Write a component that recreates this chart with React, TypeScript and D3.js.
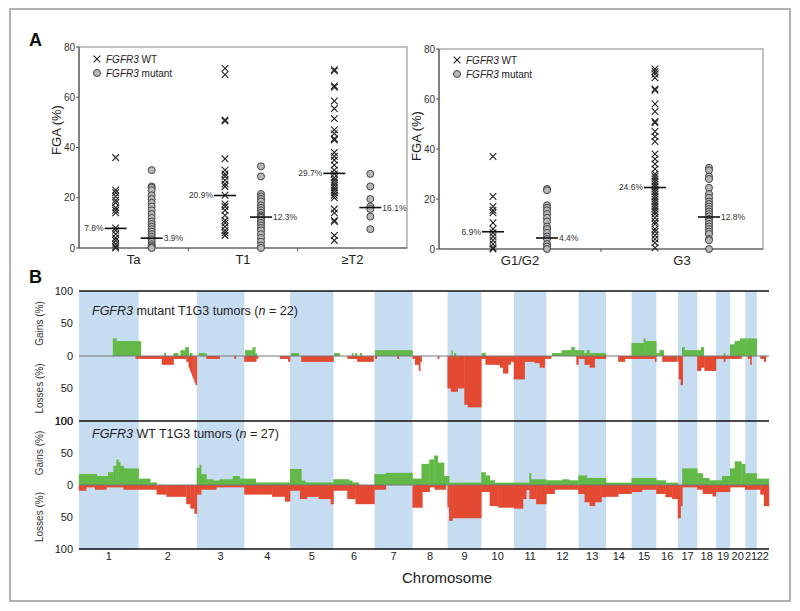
import React from 'react';
import * as d3 from 'd3';

const FONT = "'Liberation Sans', Arial, Helvetica, sans-serif";

// ---------- Panel A data ----------
const stageCats = ['Ta', 'T1', '≥T2'];
const gradeCats = ['G1/G2', 'G3'];

const taWT = [36, 23, 22, 20.5, 19, 18, 16, 15, 14, 8, 7, 5.5, 4, 3, 1.5, 0.5, 0];
const taMut = [31, 24.5, 24, 23, 21, 19.5, 18, 16.5, 15, 13.5, 12, 10.5, 9.5, 8.5, 7.5, 6.5, 5.5, 4.5, 3.5, 2.5, 1.5, 0.8, 0.3, 0];
const t1WT = [71.5, 69, 50.5, 51, 35.5, 31, 29.5, 28.5, 27, 25.5, 24.5, 21, 17.5, 16.5, 15, 13, 11, 10, 8.5, 7, 6, 5];
const t1Mut = [32.5, 28.5, 21.5, 20.5, 19.5, 18.5, 17, 16, 15, 14, 13, 12.5, 12, 11, 10, 9, 8, 7, 5.5, 4, 2.5, 1, 0];
const t2WT = [71, 70.5, 64.5, 64, 58.5, 55.5, 51.5, 47, 45.5, 43.5, 43, 38, 36.5, 35, 33, 31, 29.5, 28, 27, 26, 25, 24, 23, 22, 21, 20, 15.5, 14, 11, 10.5, 5, 3];
const t2Mut = [29.5, 24.5, 19.5, 16.5, 15.5, 12.5, 7.5];
const g12WT = [37, 21, 17, 15.5, 14.5, 10.5, 8, 6.5, 5, 3.5, 2, 0.5, 0];
const g12Mut = [24, 23.5, 17.5, 16.5, 15.5, 14, 12.5, 11, 9, 8, 6.5, 5, 4, 2, 1, 0];
const g3WT = [72, 71, 70, 68.5, 64, 63.5, 58, 55, 51, 50.5, 47, 45, 43, 38, 36, 34, 32, 30, 29, 28, 27, 26, 25, 24, 23, 22, 21, 20, 19, 18, 17, 16, 15, 14, 12.5, 11, 10, 8, 7, 5.5, 4, 2.5, 0.5];
const g3Mut = [32.5, 31.5, 29, 28, 24.5, 22, 20.5, 19, 18, 17, 16, 15, 14, 13, 12, 11, 10, 9, 8, 7, 6, 4, 3.5, 0];

const stageWTMed = [7.8, 20.9, 29.7];
const stageMutMed = [3.9, 12.3, 16.1];
const gradeWTMed = [6.9, 24.6];
const gradeMutMed = [4.4, 12.8];
const fgaTicks = [0, 20, 40, 60, 80];

// ---------- Panel B data ----------
const chromLengths = [249, 243, 198, 191, 181, 171, 159, 146, 141, 136, 135, 134, 115, 107, 103, 90, 81, 78, 59, 63, 48, 51];
const pctTicks = [100, 50, 0, 50, 100];

// [chromosome, fromFraction, toFraction, percent]
const mutGains = [
  [1, 0.57, 0.63, 27], [1, 0.63, 1, 23], [2, 0, 0.04, 23],
  [2, 0.44, 0.47, 4.5], [2, 0.6, 0.68, 4.5], [2, 0.72, 0.8, 9], [2, 0.8, 0.86, 13.6], [2, 0.88, 0.92, 4.5],
  [3, 0.04, 0.2, 4.5],
  [4, 0.02, 0.18, 9], [4, 0.18, 0.24, 13.6], [4, 0.24, 0.27, 4.5],
  [5, 0.02, 0.2, 4.5],
  [6, 0.02, 0.15, 4.5], [6, 0.45, 0.48, 4.5], [6, 0.53, 0.57, 4.5], [6, 0.65, 0.69, 4.5],
  [7, 0.02, 1, 9],
  [9, 0.12, 0.15, 9], [9, 0.2, 0.25, 4.5],
  [10, 0.01, 0.13, 4.5],
  [12, 0.18, 0.48, 4.5], [12, 0.48, 0.78, 9], [12, 0.78, 0.88, 13.6], [12, 0.88, 1, 9],
  [13, 0, 0.2, 9], [13, 0.2, 0.3, 4.5], [13, 0.3, 0.4, 9], [13, 0.4, 1, 4.5],
  [15, 0, 0.49, 20], [15, 0.49, 0.56, 27], [15, 0.56, 1, 23],
  [16, 0, 0.15, 4.5], [16, 0.15, 0.35, 9],
  [17, 0.22, 0.35, 13.6], [17, 0.35, 1, 9],
  [18, 0, 0.2, 9], [18, 0.2, 0.35, 13.6],
  [19, 0.55, 0.65, 4.5],
  [20, 0, 0.3, 18], [20, 0.3, 0.65, 23], [20, 0.65, 1, 27],
  [21, 0, 1, 27],
];
const mutLosses = [
  [1, 0.95, 1, 4.5],
  [2, 0, 0.4, 4.5], [2, 0.4, 0.6, 13.6], [2, 0.6, 0.82, 4.5], [2, 0.82, 0.86, 9], [2, 0.86, 0.88, 18],
  [2, 0.88, 0.9, 23], [2, 0.9, 0.92, 27], [2, 0.92, 0.94, 32], [2, 0.94, 0.96, 36], [2, 0.96, 0.98, 41], [2, 0.98, 1, 45],
  [3, 0.2, 0.48, 4.5], [3, 0.79, 0.82, 4.5],
  [4, 0, 0.26, 9], [4, 0.26, 0.3, 4.5], [4, 0.78, 0.96, 4.5], [4, 0.96, 1, 9],
  [5, 0.26, 1, 9],
  [6, 0.34, 0.58, 4.5], [6, 0.58, 0.98, 9],
  [7, 0.02, 0.06, 4.5], [7, 0.6, 0.64, 4.5],
  [8, 0, 0.07, 4.5], [8, 0.07, 0.18, 13.6], [8, 0.18, 0.22, 23], [8, 0.22, 0.26, 9], [8, 0.72, 0.76, 4.5],
  [9, 0, 0.1, 50], [9, 0.1, 0.3, 55], [9, 0.3, 0.5, 50], [9, 0.5, 0.6, 75], [9, 0.6, 1, 79],
  [10, 0, 0.13, 4.5], [10, 0.13, 0.57, 13.6], [10, 0.57, 0.67, 18], [10, 0.67, 0.82, 27], [10, 0.82, 0.9, 13.6], [10, 0.9, 1, 9],
  [11, 0, 0.33, 36], [11, 0.33, 0.64, 9], [11, 0.64, 0.8, 11], [11, 0.8, 0.95, 18], [11, 0.95, 1, 4.5],
  [12, 0, 0.15, 4.5], [12, 0.94, 1, 13.6],
  [13, 0, 0.23, 4.5], [13, 0.23, 0.41, 13.6], [13, 0.41, 0.59, 18], [13, 0.59, 1, 4.5],
  [14, 0.48, 0.74, 9], [14, 0.74, 1, 4.5],
  [15, 0, 0.95, 4.5], [15, 0.95, 1, 9],
  [16, 0.28, 0.97, 9],
  [17, 0, 0.05, 9], [17, 0.05, 0.15, 36], [17, 0.15, 0.25, 45],
  [18, 0, 0.2, 23], [18, 0.2, 0.39, 18], [18, 0.39, 1, 23],
  [19, 0, 1, 4.5], [19, 0.55, 0.65, 9],
  [20, 0, 0.75, 4.5],
  [21, 0.25, 0.5, 4.5], [21, 0.45, 0.55, 13.6],
  [22, 0.3, 0.75, 4.5], [22, 0.6, 0.75, 9],
];
const wtGains = [
  [1, 0, 0.3, 17], [1, 0.3, 0.49, 14], [1, 0.49, 0.58, 20], [1, 0.58, 0.63, 30], [1, 0.63, 0.66, 40],
  [1, 0.66, 0.69, 36], [1, 0.69, 0.75, 30], [1, 0.75, 1, 26],
  [2, 0, 0.2, 10], [2, 0.2, 0.31, 4],
  [3, 0, 0.06, 27], [3, 0.06, 0.09, 32], [3, 0.09, 0.2, 17], [3, 0.2, 0.34, 9], [3, 0.34, 0.48, 7],
  [3, 0.48, 0.76, 9], [3, 0.76, 0.9, 14], [3, 0.9, 1, 10],
  [4, 0, 0.25, 10], [4, 0.25, 1, 4],
  [5, 0, 0.26, 25], [5, 0.26, 0.35, 7], [5, 0.35, 1, 4],
  [6, 0, 0.38, 9], [6, 0.38, 0.46, 7], [6, 0.46, 0.62, 4],
  [7, 0, 0.3, 17], [7, 0.3, 1, 19],
  [8, 0, 0.26, 10], [8, 0.26, 0.48, 33], [8, 0.48, 0.62, 40], [8, 0.62, 0.72, 46], [8, 0.72, 0.9, 35], [8, 0.9, 1, 14],
  [9, 0, 0.05, 14], [9, 0.05, 1, 3.7],
  [10, 0, 0.13, 20], [10, 0.13, 0.26, 15], [10, 0.26, 0.41, 7.4], [10, 0.41, 1, 3.7],
  [11, 0, 0.48, 3.7], [11, 0.48, 0.53, 18.5], [11, 0.53, 1, 9],
  [12, 0, 1, 7.4], [12, 0.5, 0.7, 9],
  [13, 0, 0.3, 15], [13, 0.3, 1, 11],
  [14, 0, 1, 3.7],
  [15, 0, 1, 11],
  [16, 0, 0.43, 7.4], [16, 0.43, 1, 3.7],
  [17, 0.23, 1, 26],
  [18, 0, 0.3, 18.5], [18, 0.3, 0.65, 11], [18, 0.65, 1, 7.4],
  [19, 0, 0.43, 7.4], [19, 0.43, 1, 14],
  [20, 0, 0.31, 26], [20, 0.31, 0.75, 37], [20, 0.75, 1, 33],
  [21, 0, 1, 18.5],
  [22, 0, 1, 10],
];
const wtLosses = [
  [1, 0, 0.12, 9], [1, 0.12, 0.27, 3.7], [1, 0.27, 0.46, 7.4], [1, 0.46, 0.75, 3.7], [1, 0.75, 1, 7.4],
  [2, 0, 0.31, 7.4], [2, 0.31, 0.48, 15], [2, 0.48, 0.82, 18.5], [2, 0.82, 0.89, 30], [2, 0.89, 0.96, 37], [2, 0.96, 1, 45],
  [3, 0, 0.09, 15], [3, 0.09, 0.41, 7.4], [3, 0.41, 1, 3.7],
  [4, 0, 0.61, 15], [4, 0.61, 0.89, 18.5], [4, 0.89, 1, 26],
  [5, 0, 0.23, 9], [5, 0.23, 0.39, 22], [5, 0.39, 0.66, 18.5], [5, 0.66, 0.94, 22], [5, 0.94, 1, 30],
  [6, 0, 0.34, 9], [6, 0.34, 0.54, 22], [6, 0.54, 1, 30],
  [7, 0, 0.3, 7.4],
  [8, 0, 0.28, 35.5], [8, 0.28, 0.49, 11], [8, 0.49, 0.63, 3.7], [8, 0.63, 0.95, 7.4],
  [9, 0, 0.05, 35], [9, 0.05, 0.15, 56], [9, 0.15, 1, 52],
  [10, 0, 0.26, 11], [10, 0.26, 0.52, 33], [10, 0.52, 1, 35.5],
  [11, 0, 0.28, 37], [11, 0.28, 0.38, 22], [11, 0.38, 0.48, 8], [11, 0.48, 0.69, 22], [11, 0.69, 1, 30],
  [12, 0, 0.26, 14], [12, 0.26, 1, 7.4],
  [13, 0, 0.23, 14], [13, 0.23, 0.41, 27], [13, 0.41, 0.6, 33], [13, 0.6, 0.84, 27], [13, 0.84, 1, 19],
  [14, 0, 0.48, 18.5], [14, 0.48, 1, 14],
  [15, 0, 0.42, 11], [15, 0.42, 1, 7.4],
  [16, 0, 0.43, 14], [16, 0.43, 0.74, 19], [16, 0.74, 1, 22],
  [17, 0, 0.14, 52], [17, 0.14, 0.23, 33], [17, 0.23, 1, 3.7],
  [18, 0, 0.3, 7.4], [18, 0.3, 0.82, 14], [18, 0.82, 1, 18],
  [19, 0, 1, 11],
  [20, 0, 1, 3.7],
  [21, 0, 1, 7.4],
  [22, 0, 0.3, 7.4], [22, 0.3, 0.6, 15], [22, 0.6, 1, 33],
];

const GREEN = '#63b948';
const RED = '#e34a31';
const BLUE = '#c6dcf1';

function XMark({ x, y }: { x: number; y: number }) {
  const s = 3.3;
  return (
    <path d={`M${x - s},${y - s}L${x + s},${y + s}M${x - s},${y + s}L${x + s},${y - s}`} stroke="#222" strokeWidth={1.1} fill="none" />
  );
}
function Dot({ x, y }: { x: number; y: number }) {
  return <circle cx={x} cy={y} r={3.5} fill="#b8b8b8" stroke="#444" strokeWidth={1} />;
}

function FgaPanel(props: {
  x0: number; x1: number; yTop: number; yBot: number; cats: string[];
  wt: number[][]; mut: number[][]; wtMed: number[]; mutMed: number[]; off: number;
  titleX: number; titleY: number; legX: number; legY: number;
}) {
  const { x0, x1, yTop, yBot, cats, wt, mut, wtMed, mutMed, off } = props;
  const xb = d3.scaleBand().domain(cats).range([x0, x1]);
  const y = d3.scaleLinear().domain([0, 80]).range([yBot, yTop]);
  const hw = 11;
  return (
    <g fontFamily={FONT}>
      <rect x={x0} y={yTop} width={x1 - x0} height={yBot - yTop} fill="none" stroke="#999" strokeWidth={1.2} />
      <line x1={x0} x2={x0} y1={yTop} y2={yBot} stroke="#555" strokeWidth={1.2} />
      <line x1={x0} x2={x1} y1={yBot} y2={yBot} stroke="#555" strokeWidth={1.2} />
      {fgaTicks.map((t) => (
        <g key={t}>
          <line x1={x0 - 3} x2={x0} y1={y(t)} y2={y(t)} stroke="#555" />
          <text x={x0 - 4} y={y(t)} dy="0.35em" textAnchor="end" fontSize={10} fill="#333">{t}</text>
        </g>
      ))}
      {cats.slice(0, -1).map((c) => (
        <line key={c} x1={xb(c)! + xb.bandwidth()} x2={xb(c)! + xb.bandwidth()} y1={yBot} y2={yBot + 3} stroke="#555" />
      ))}
      {cats.map((c) => (
        <text key={c} x={xb(c)! + xb.bandwidth() / 2} y={yBot + 16} textAnchor="middle" fontSize={13} fill="#222">{c}</text>
      ))}
      <text transform={`translate(${props.titleX},${props.titleY}) rotate(-90)`} textAnchor="middle" dy="0.35em" fontSize={13} fill="#222">FGA (%)</text>
      {cats.map((c, i) => {
        const cx = xb(c)! + xb.bandwidth() / 2;
        const xw = cx - off;
        const xm = cx + off;
        return (
          <g key={c}>
            {wt[i].map((v, j) => <XMark key={j} x={xw} y={y(v)} />)}
            {mut[i].map((v, j) => <Dot key={j} x={xm} y={y(v)} />)}
            <line x1={xw - hw} x2={xw + hw} y1={y(wtMed[i])} y2={y(wtMed[i])} stroke="#111" strokeWidth={1.6} />
            <line x1={xm - hw} x2={xm + hw} y1={y(mutMed[i])} y2={y(mutMed[i])} stroke="#111" strokeWidth={1.6} />
            <text x={xw - hw - 1} y={y(wtMed[i])} dy="0.35em" textAnchor="end" fontSize={8.5} fill="#333">{wtMed[i].toFixed(1)}%</text>
            <text x={xm + hw + 1} y={y(mutMed[i])} dy="0.35em" textAnchor="start" fontSize={8.5} fill="#333">{mutMed[i].toFixed(1)}%</text>
          </g>
        );
      })}
      <XMark x={props.legX} y={props.legY} />
      <text x={props.legX + 9} y={props.legY} dy="0.35em" fontSize={10} fill="#222"><tspan fontStyle="italic">FGFR3</tspan> WT</text>
      <Dot x={props.legX} y={props.legY + 14} />
      <text x={props.legX + 9} y={props.legY + 14} dy="0.35em" fontSize={10} fill="#222"><tspan fontStyle="italic">FGFR3</tspan> mutant</text>
    </g>
  );
}

const chromStarts = [0, ...Array.from(d3.cumsum(chromLengths))];
const genomeLen = d3.sum(chromLengths);
const BX0 = 79;
const BX1 = 769;
const xG = d3.scaleLinear().domain([0, genomeLen]).range([BX0, BX1]);

function Profile(props: { yTop: number; yZero: number; yBot: number; gains: number[][]; losses: number[][]; label: string; labelY: number }) {
  const { yTop, yZero, yBot, gains, losses } = props;
  const yg = d3.scaleLinear().domain([0, 100]).range([yZero, yTop]);
  const yl = d3.scaleLinear().domain([0, 100]).range([yZero, yBot]);
  const segX = (s: number[]) => {
    const c = s[0] - 1;
    const a = xG(chromStarts[c] + s[1] * chromLengths[c]);
    const b = xG(chromStarts[c] + s[2] * chromLengths[c]);
    return [a, b];
  };
  const tickY = [yg(100), yg(50), yZero, yl(50), yl(100)];
  return (
    <g fontFamily={FONT}>
      {gains.map((s, i) => {
        const [a, b] = segX(s);
        return <rect key={'g' + i} x={a - 0.2} width={b - a + 0.4} y={yg(s[3])} height={yZero - yg(s[3])} fill={GREEN} />;
      })}
      {losses.map((s, i) => {
        const [a, b] = segX(s);
        return <rect key={'l' + i} x={a - 0.2} width={b - a + 0.4} y={yZero} height={yl(s[3]) - yZero} fill={RED} />;
      })}
      <line x1={BX0} x2={BX1} y1={yZero} y2={yZero} stroke="#777" strokeWidth={1} />
      {pctTicks.map((t, i) => (
        <text key={i} x={73} y={tickY[i]} dy="0.35em" textAnchor="end" fontSize={11} fill="#222">{t}</text>
      ))}
      <text transform={`translate(39,${(yTop + yZero) / 2}) rotate(-90)`} textAnchor="middle" dy="0.35em" fontSize={10} fill="#333">Gains (%)</text>
      <text transform={`translate(39,${(yZero + yBot) / 2}) rotate(-90)`} textAnchor="middle" dy="0.35em" fontSize={10} fill="#333">Losses (%)</text>
      <text x={92} y={props.labelY} fontSize={12.5} fill="#222">
        <tspan fontStyle="italic">FGFR3</tspan> {props.label} (<tspan fontStyle="italic">n</tspan> = {props.label.includes('mutant') ? '22' : '27'})
      </text>
    </g>
  );
}

export default function App() {
  const bTop = 291, bMid = 421, bBot = 549;
  return (
    <svg width={800} height={611} style={{ position: 'absolute', left: 0, top: 0, background: '#fff' }} fontFamily={FONT}>
      <rect x={0} y={0} width={800} height={611} fill="#fff" />
      <rect x={10} y={9} width={780} height={592} fill="none" stroke="#999" strokeWidth={1.5} />
      <text x={29} y={46} fontSize={18} fontWeight="bold" fill="#111">A</text>
      <text x={29} y={283} fontSize={18} fontWeight="bold" fill="#111">B</text>

      <FgaPanel x0={79} x1={407} yTop={47} yBot={248} cats={stageCats}
        wt={[taWT, t1WT, t2WT]} mut={[taMut, t1Mut, t2Mut]} wtMed={stageWTMed} mutMed={stageMutMed} off={18}
        titleX={56} titleY={130} legX={97} legY={59} />
      <FgaPanel x0={439} x1={763} yTop={49} yBot={249} cats={gradeCats}
        wt={[g12WT, g3WT]} mut={[g12Mut, g3Mut]} wtMed={gradeWTMed} mutMed={gradeMutMed} off={27}
        titleX={416} titleY={136} legX={457} legY={60} />

      {/* chromosome bands */}
      {chromLengths.map((len, i) => i % 2 === 0 ? (
        <rect key={i} x={xG(chromStarts[i])} width={xG(chromStarts[i] + len) - xG(chromStarts[i])} y={bTop} height={bBot + 1 - bTop} fill={BLUE} />
      ) : null)}

      <Profile yTop={bTop} yZero={356} yBot={bMid} gains={mutGains} losses={mutLosses} label="mutant T1G3 tumors" labelY={315} />
      <Profile yTop={bMid} yZero={485} yBot={bBot} gains={wtGains} losses={wtLosses} label="WT T1G3 tumors" labelY={438} />

      {[bTop, bMid, bBot].map((yy) => (
        <line key={yy} x1={BX0} x2={BX1} y1={yy} y2={yy} stroke="#111" strokeWidth={1.6} />
      ))}
      {chromLengths.map((len, i) => (
        <text key={i} x={xG(chromStarts[i] + len / 2)} y={560} textAnchor="middle" fontSize={11} fill="#222">{i + 1}</text>
      ))}
      <text x={447} y={583} textAnchor="middle" fontSize={15} fill="#222">Chromosome</text>
    </svg>
  );
}
